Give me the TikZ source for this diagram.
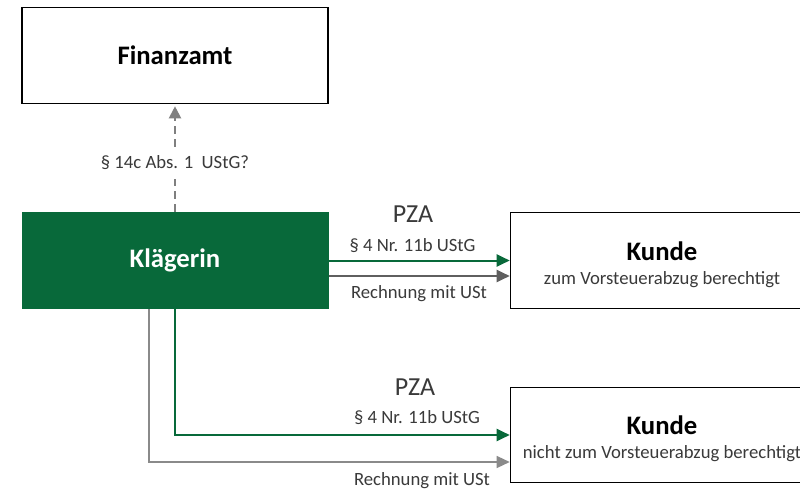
\documentclass[tikz,border=0pt]{standalone}
\usepackage{fontspec}
\setmainfont{Carlito}
\usetikzlibrary{arrows.meta}
\definecolor{kgreen}{HTML}{08693A}
\definecolor{kgray}{HTML}{5F5F5F}
\definecolor{kline}{HTML}{8A8A8A}
\definecolor{kdash}{HTML}{7F7F7F}
\definecolor{ktext}{HTML}{3A3A3A}
\begin{document}
\begin{tikzpicture}[x=1pt,y=-1pt,
  box/.style={draw=black,line width=1.6pt,minimum width=306pt,minimum height=96pt,inner sep=0pt,fill=white},
  greenbox/.style={fill=kgreen,draw=none,minimum width=307pt,minimum height=97pt,inner sep=0pt,text=white,font=\fontsize{26.7}{30}\selectfont\bfseries},
  title/.style={font=\fontsize{26.7}{30}\selectfont\bfseries,text=black,inner sep=0pt},
  sub/.style={font=\fontsize{18.7}{22}\selectfont,text=ktext,inner sep=0pt},
  lab/.style={font=\fontsize{18.7}{22}\selectfont,text=ktext,inner sep=0pt},
  pza/.style={font=\fontsize{26}{30}\selectfont,text=ktext,inner sep=0pt},
  tip/.style={-{Triangle[length=13pt,width=12pt]}},
  greenarrow/.style={tip,draw=kgreen,line width=2pt},
  grayarrow/.style={tip,draw=kgray,line width=2pt},
  thinarrow/.style={-{Triangle[length=13pt,width=12pt]},draw=kline,line width=1.3pt},
  dasharrow/.style={-{Triangle[length=12pt,width=12pt]},draw=kdash,line width=2pt,dash pattern=on 8pt off 5pt}
]
\useasboundingbox (0,0) rectangle (800,492);
\clip (0,0) rectangle (800,492);
\fill[white] (0,0) rectangle (800,492);

% boxes
\node[box] (fa) at (175,55.5) {};
\node[title] (fat) at (175,55) {Finanzamt};
\node[greenbox] (kl) at (175,260.5) {Klägerin};
\node[box,minimum width=303pt,minimum height=96pt] (k1) at (662,260.5) {};
\node[title] (k1t) at (662,251) {Kunde};
\node[sub] (k1s) at (662,280) {zum Vorsteuerabzug berechtigt};
\node[box,minimum width=303pt,minimum height=95pt] (k2) at (662,435) {};
\node[title] (k2t) at (662,425) {Kunde};
\node[sub] (k2s) at (662,454) {nicht zum Vorsteuerabzug berechtigt};

% dashed arrow to Finanzamt
\draw[dasharrow,shorten >=2pt] (kl.north) -- (fa.south);
\node[lab,fill=white,inner xsep=3pt,inner ysep=9pt] (fl) at (175,163) {§ 14c Abs. 1\ \ UStG?};

% upper arrows
\draw[greenarrow] (kl.east) -- (kl.east -| k1.west);
\draw[grayarrow] ([yshift=-15.5pt]kl.east) -- ([yshift=-15.5pt]k1.west);
\node[pza] (p1) at (413,214) {PZA};
\node[lab] (s1) at (412.5,246) {§ 4 Nr. 11b UStG};
\node[lab] (r1) at (419,294) {Rechnung mit USt};

% lower arrows
\draw[greenarrow] (kl.south) |- (k2.west);
\draw[thinarrow] ([xshift=-26pt]kl.south) |- ([yshift=-27pt]k2.west);
\node[pza] (p2) at (415,387) {PZA};
\node[lab] (s2) at (417,418) {§ 4 Nr. 11b UStG};
\node[lab] (r2) at (422,481) {Rechnung mit USt};
\end{tikzpicture}
\end{document}
